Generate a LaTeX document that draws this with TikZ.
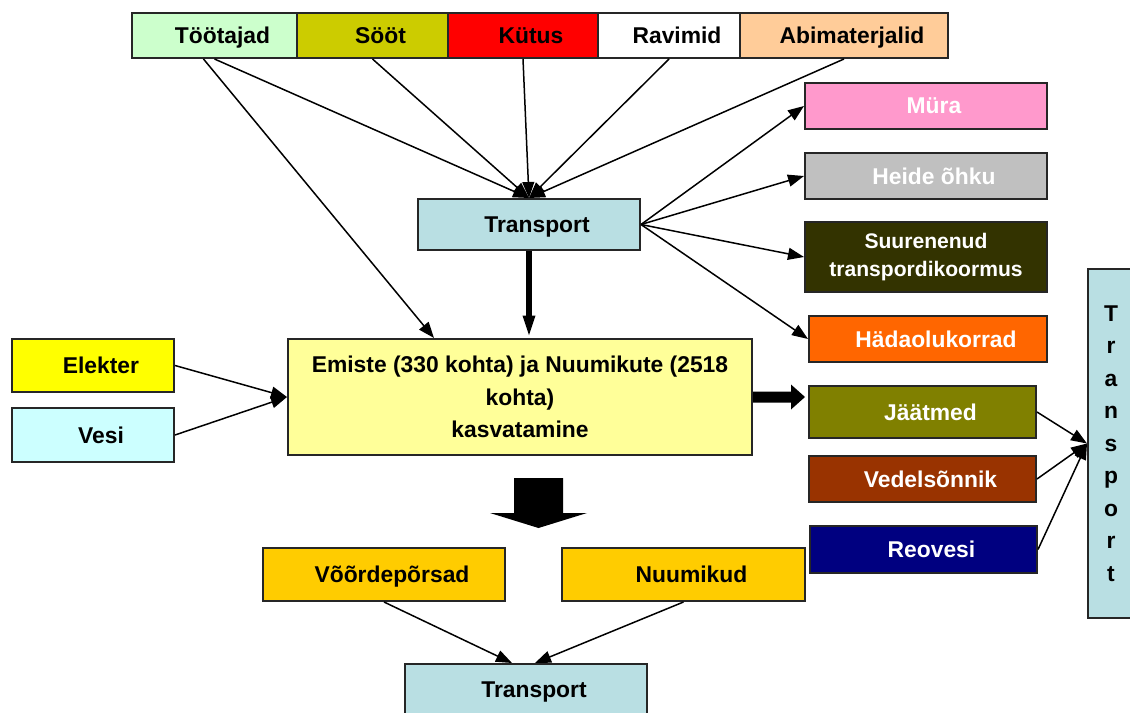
\documentclass[tikz,border=0pt]{standalone}
\usepackage{fontspec}
\setmainfont{Liberation Sans}
\usetikzlibrary{calc}
\usetikzlibrary{arrows.meta}

\definecolor{helehall}{HTML}{CCFFCC}
\definecolor{oliiv}{HTML}{CCCC00}
\definecolor{punane}{HTML}{FF0000}
\definecolor{oranz}{HTML}{FFCC99}
\definecolor{roosa}{HTML}{FF99CC}
\definecolor{hall}{HTML}{C0C0C0}
\definecolor{tumeoliiv}{HTML}{333300}
\definecolor{hoiatus}{HTML}{FF6600}
\definecolor{jaatmevarv}{HTML}{808000}
\definecolor{pruun}{HTML}{993300}
\definecolor{tumesinine}{HTML}{000080}
\definecolor{transpvarv}{HTML}{B9DFE3}
\definecolor{helekollane}{HTML}{FFFF99}
\definecolor{kollane}{HTML}{FFFF00}
\definecolor{vesivarv}{HTML}{CCFFFF}
\definecolor{kuldne}{HTML}{FFCC00}

\begin{document}
\begin{tikzpicture}[x=0.02cm,y=-0.02cm,
  kast/.style 2 args={draw=black!85,line width=0.04cm,minimum width=#1*0.02cm,
    minimum height=#2*0.02cm,inner sep=0pt,font=\fontsize{13}{18.5}\selectfont\bfseries},
  nihe/.style={text depth=0pt,execute at begin node=\hspace*{0.32cm}},
  nool/.style={line width=0.03cm,-{Triangle[length=0.32cm,width=0.24cm]}},
  valge/.style={text=white}]
\useasboundingbox (0,0) rectangle (1130,713);
\clip (0,0) rectangle (1130,713);

% sisendid
\node[kast={165}{45},fill=helehall,nihe] (too) at (214.5,35.5) {Töötajad};
\node[kast={151}{45},fill=oliiv,nihe] (soot) at (372.5,35.5) {Sööt};
\node[kast={150}{45},fill=punane,nihe] (kytus) at (523,35.5) {Kütus};
\node[kast={142}{45},fill=white,nihe] (ravi) at (669,35.5) {Ravimid};
\node[kast={208}{45},fill=oranz,nihe] (abi) at (844,35.5) {Abimaterjalid};

\node[kast={222}{51},fill=transpvarv,nihe] (transp) at (529,224.5) {Transport};

\node[kast={162}{53},fill=kollane,nihe] (elekter) at (93,365.5) {Elekter};
\node[kast={162}{54},fill=vesivarv,nihe] (vesi) at (93,435) {Vesi};
\node[kast={464}{116},fill=helekollane,align=center] (emiste) at (520,397)
  {Emiste (330 kohta) ja Nuumikute (2518\\kohta)\\kasvatamine};

% väljundid
\node[kast={242}{46},fill=roosa,valge,nihe] (mura) at (926,106) {Müra};
\node[kast={242}{46},fill=hall,valge,nihe] (heide) at (926,176) {Heide õhku};
\node[kast={242}{70},fill=tumeoliiv,valge,align=center,
  font=\fontsize{12}{15.5}\selectfont\bfseries] (suur) at (926,257)
  {Suurenenud\\transpordikoormus};
\node[kast={238}{46},fill=hoiatus,valge,nihe] (hada) at (928,339) {Hädaolukorrad};
\node[kast={227}{52},fill=jaatmevarv,valge,nihe] (jaatmed) at (922.5,412) {Jäätmed};
\node[kast={227}{46},fill=pruun,valge,nihe] (vedel) at (922.5,479) {Vedelsõnnik};
\node[kast={227}{47},fill=tumesinine,valge,nihe] (reovesi) at (923.5,549.5) {Reovesi};
\node[kast={46}{349},fill=transpvarv,align=center] (transpB) at (1111,443.5)
  {T\\r\\a\\n\\s\\p\\o\\r\\t};

\node[kast={242}{53},fill=kuldne,nihe] (voord) at (384,574.5) {Võõrdepõrsad};
\node[kast={243}{53},fill=kuldne,nihe] (nuum) at (683.5,574.5) {Nuumikud};
\node[kast={242}{51},fill=transpvarv,nihe] (transpC) at (526,689.5) {Transport};

% nooled
\draw[nool] ($(too.south)+(-11,0)$) -- ($(emiste.north west)+(147,0)$);
\foreach \n in {too,soot,kytus,ravi,abi}
  \draw[nool] (\n.south) -- (transp.north);
\foreach \n in {mura,heide,suur,hada}
  \draw[nool] (transp.east) -- (\n.west);
\draw[nool] (elekter.east) -- (emiste.west);
\draw[nool] (vesi.east) -- (emiste.west);
\foreach \n in {jaatmed,vedel,reovesi}
  \draw[nool] (\n.east) -- (transpB.west);
\draw[nool] (voord.south) -- ($(transpC.north)+(-14,0)$);
\draw[nool] (nuum.south) -- ($(transpC.north)+(9,0)$);

\draw[line width=0.11cm,-{Triangle[length=0.45cm,width=0.22cm]}]
  (transp.south) -- (transp.south |- emiste.north);
\fill (emiste.east) ++(0,-5.5) -- ++(38,0) -- ++(0,-7) -- ++(14,12.5)
  -- ++(-14,12.5) -- ++(0,-7) -- ++(-38,0) -- cycle;
\fill (514,478) -- (563,478) -- (563,513) -- (587,513) -- (538.5,528)
  -- (490,513) -- (514,513) -- cycle;
\end{tikzpicture}
\end{document}
